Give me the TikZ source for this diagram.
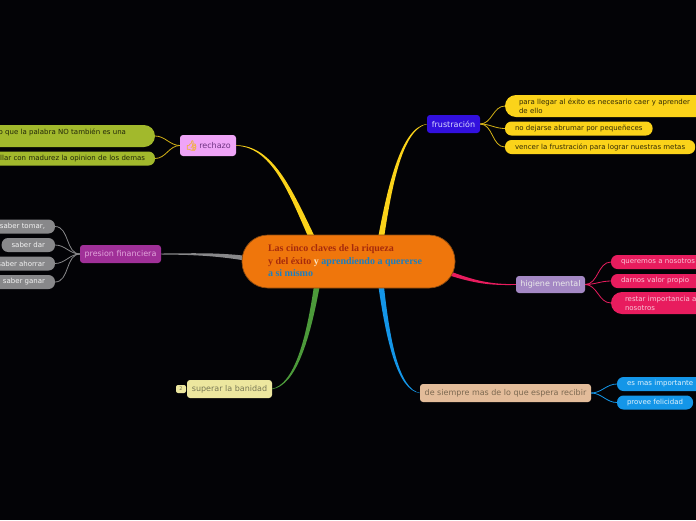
\documentclass[tikz,border=0pt]{standalone}
\usepackage{fontspec}
\setmainfont{DejaVu Sans}
\newfontfamily\serifb{Liberation Serif}[BoldFont={Liberation Serif Bold}]
\newfontfamily\emojif{Noto Emoji}[FakeBold=2.5]
\usetikzlibrary{backgrounds,calc}
\definecolor{bgc}{HTML}{030306}
\definecolor{yel}{HTML}{FBD31A}
\definecolor{oli}{HTML}{A2B92C}
\definecolor{gry}{HTML}{88888A}
\definecolor{pnk}{HTML}{E81C5E}
\definecolor{blu}{HTML}{1496E8}
\definecolor{grn}{HTML}{4C9A3A}
\tikzset{
 every node/.style={inner ysep=0pt,outer sep=0pt},
 topic/.style={rounded corners=3pt,font=\fontsize{8}{9}\selectfont,inner xsep=0pt,minimum height=18pt},
 leafr/.style={anchor=west,rounded corners=6.5pt,font=\fontsize{7}{9}\selectfont,inner xsep=10pt,align=left,minimum height=14pt},
 leafl/.style={anchor=east,rounded corners=6.5pt,font=\fontsize{7}{9}\selectfont,inner xsep=10pt,align=right,minimum height=14pt},
 thinc/.style={line width=.8pt},
}
\newcommand{\taper}[7]{% colour, start, c1, c2, end, dx, dy : end is the thick one
 \fill[#1] ($(#2)+(#6/5,#7/5)$) .. controls ($(#3)+(#6*.3,#7*.3)$) and ($(#4)+(#6*.65,#7*.65)$) .. ($(#5)+(#6,#7)$) -- ($(#5)-(#6,#7)$) .. controls ($(#4)-(#6*.65,#7*.65)$) and ($(#3)-(#6*.3,#7*.3)$) .. ($(#2)-(#6/5,#7/5)$) -- cycle;}
\begin{document}
\begin{tikzpicture}[x=1pt,y=-1pt]
\useasboundingbox (0,0) rectangle (696,520);
% nodes
\node[draw={rgb,255:red,140;green,75;blue,16},line width=.7pt,minimum width=213pt,minimum height=53pt,rounded corners=26pt,fill={rgb,255:red,239;green,118;blue,12}] (root) at (348.5,261.5) {};
\node[anchor=north west,inner sep=0pt,align=left,font=\serifb\bfseries\fontsize{10}{12.5}\selectfont] (roott) at (268,245) {\textcolor[HTML]{A62A0C}{Las cinco claves de la riqueza}\\\textcolor[HTML]{A62A0C}{y del éxito} \textcolor[HTML]{FBE8C8}{y} \textcolor[HTML]{1C7FC0}{aprendiendo a quererse}\\\textcolor[HTML]{1C7FC0}{a si mismo}};
% frustracion
\node[topic,fill={rgb,255:red,50;green,16;blue,222},text=white!85!blue,minimum width=53pt] (fru) at (453.5,124) {frustración};
\node[leafr,fill=yel,text=black!80!yel,text width=190pt,inner xsep=14pt,rounded corners=11pt,minimum height=22pt] (f1) at (505,106) {para llegar al éxito es necesario caer y aprender\\de ello};
\node[leafr,fill=yel,text=black!80!yel] (f2) at (505,128.5) {no dejarse abrumar por pequeñeces};
\node[leafr,fill=yel,text=black!80!yel] (f3) at (505,147) {vencer la frustración para lograr nuestras metas};
% rechazo
\node[topic,fill={rgb,255:red,239;green,164;blue,247},text={rgb,255:red,110;green,50;blue,130},minimum width=56pt,minimum height=21pt] (rec) at (208,145.5) {\textcolor[HTML]{F0B050}{\emojif\fontsize{10}{10}\selectfont 👍}\,rechazo};
\node[leafl,fill=oli,text=black!80!oli,inner xsep=29pt,rounded corners=11pt,minimum height=22pt,text width=260pt] (r1) at (155,136) {o que la palabra NO también es una\\\phantom{x}};
\node[leafl,fill=oli,text=black!80!oli,text width=260pt] (r2) at (155,158.5) {illar con madurez la opinion de los demas};
% presion
\node[topic,fill={rgb,255:red,160;green,48;blue,152},text={rgb,255:red,226;green,165;blue,220},minimum width=81pt] (pre) at (120.5,254) {presion financiera};
\node[leafl,fill=gry,text=white!90!gry] (p1) at (55,226.5) {saber tomar,};
\node[leafl,fill=gry,text=white!90!gry] (p2) at (55,245) {saber dar};
\node[leafl,fill=gry,text=white!90!gry] (p3) at (55,263.5) {saber ahorrar};
\node[leafl,fill=gry,text=white!90!gry] (p4) at (55,282) {saber ganar};
% superar
\node[topic,fill={rgb,255:red,237;green,231;blue,159},text={rgb,255:red,120;green,120;blue,85},minimum width=85pt] (sup) at (229.5,389) {superar la banidad};
\node[fill={rgb,255:red,237;green,231;blue,159},text={rgb,255:red,110;green,110;blue,80},rounded corners=2pt,minimum width=10pt,minimum height=8pt,inner xsep=0pt,font=\fontsize{5}{5}\selectfont] (bad) at (181,389) {2};
% higiene
\node[topic,fill={rgb,255:red,164;green,136;blue,196},text=white!92!black,minimum width=69pt,minimum height=17pt] (hig) at (550.5,284.5) {higiene mental};
\node[leafr,fill=pnk,text=white!75!pnk,text width=100pt] (h1) at (611,262) {queremos a nosotros};
\node[leafr,fill=pnk,text=white!75!pnk,text width=100pt] (h2) at (611,281) {darnos valor propio};
\node[leafr,fill=pnk,text=white!75!pnk,text width=100pt,inner xsep=14pt,rounded corners=11pt,minimum height=22pt] (h3) at (611,303) {restar importancia a\\nosotros};
% siempre
\node[topic,fill={rgb,255:red,227;green,188;blue,154},text={rgb,255:red,123;green,104;blue,80},minimum width=171pt] (sie) at (505.5,393) {de siempre mas de lo que espera recibir};
\node[leafr,fill=blu,text=white!88!blu,text width=100pt] (s1) at (617,384) {es mas importante};
\node[leafr,fill=blu,text=white!88!blu] (s2) at (617,402.5) {provee felicidad};
% anchors on the central node
\coordinate (afru) at (381,238);
\coordinate (arec) at (312,238);
\coordinate (apre) at (244,258);
\coordinate (ahig) at (450,273.5);
\coordinate (asie) at (381,285);
\coordinate (asup) at (317,285);
\begin{scope}[on background layer]
\fill[bgc] (0,0) rectangle (696,520);
\taper{yel}{fru.west}{402,128}{390,185}{afru}{3}{0}
\taper{yel}{rec.east}{272,146}{290,190}{arec}{2.8}{-1.2}
\taper{gry}{pre.east}{190,254}{215,254}{apre}{0}{2.4}
\taper{pnk}{hig.west}{490,285}{475,282}{ahig}{.5}{-2}
\taper{blu}{sie.west}{398,390}{388,340}{asie}{2.8}{0}
\taper{grn}{sup.east}{295,385}{308,340}{asup}{2.8}{.6}
\foreach \t in {f1,f2,f3}{\draw[yel!85!black,thinc] (fru.east) to[out=0,in=180] (\t.west);}
\foreach \t in {r1,r2}{\draw[yel!85!black,thinc] (rec.west) to[out=180,in=0] (\t.east);}
\foreach \t in {p1,p2,p3,p4}{\draw[gry,thinc] (pre.west) to[out=180,in=0] (\t.east);}
\foreach \t in {h1,h2,h3}{\draw[pnk,thinc] (hig.east) to[out=0,in=180] (\t.west);}
\foreach \t in {s1,s2}{\draw[blu,thinc] (sie.east) to[out=0,in=180] (\t.west);}
\end{scope}
\end{tikzpicture}
\end{document}
